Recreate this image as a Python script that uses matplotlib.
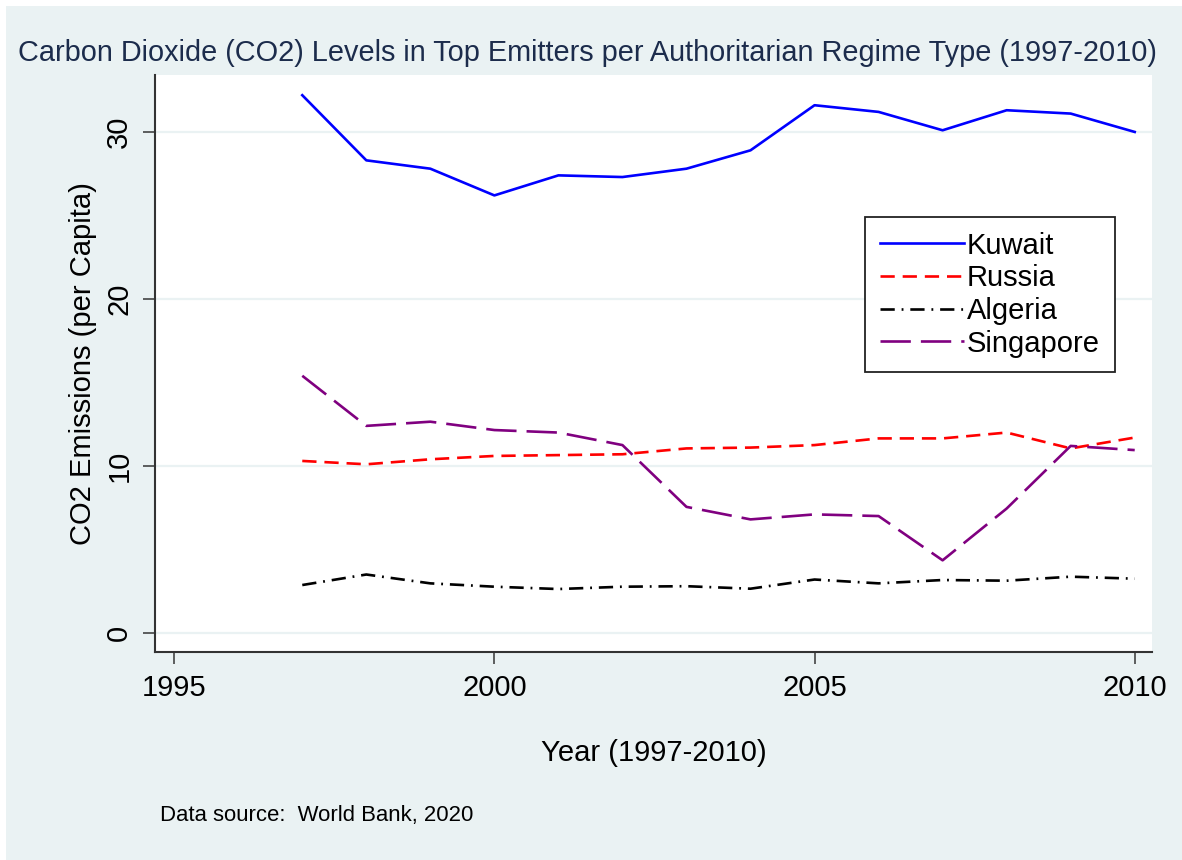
import matplotlib
matplotlib.use("Agg")
import matplotlib.pyplot as plt
from matplotlib.patches import Rectangle

plt.rcParams['font.family'] = ['Liberation Sans', 'DejaVu Sans']

years = [1997, 1998, 1999, 2000, 2001, 2002, 2003, 2004, 2005, 2006, 2007, 2008, 2009, 2010]
kuwait = [32.2, 28.3, 27.8, 26.2, 27.4, 27.3, 27.8, 28.9, 31.6, 31.2, 30.1, 31.3, 31.1, 30.0]
russia = [10.3, 10.1, 10.4, 10.6, 10.65, 10.7, 11.05, 11.1, 11.25, 11.65, 11.65, 12.0, 11.05, 11.7]
algeria = [2.87, 3.5, 2.97, 2.77, 2.63, 2.77, 2.8, 2.65, 3.2, 2.97, 3.17, 3.13, 3.37, 3.25]
singapore = [15.4, 12.4, 12.65, 12.15, 12.0, 11.25, 7.55, 6.8, 7.1, 7.0, 4.35, 7.45, 11.2, 10.95]

x_ticks = [1995, 2000, 2005, 2010]
y_ticks = [0, 10, 20, 30]

W, H = 1182, 860
fig = plt.figure(figsize=(W / 100, H / 100), dpi=100, facecolor='white')

# light graph region background
bg = Rectangle((6 / W, 0), 1 - 6 / W, 1 - 6 / H, transform=fig.transFigure,
               facecolor='#eaf2f3', edgecolor='none', zorder=-10)
fig.patches.append(bg)

ax = fig.add_axes([155 / W, 1 - 652 / H, (1152 - 155) / W, (652 - 75) / H])
ax.set_facecolor('white')

lw = 1.9
ax.plot(years, kuwait, color='#0000ff', lw=lw, label='Kuwait')
l_r, = ax.plot(years, russia, color='#ff0000', lw=lw, label='Russia')
l_r.set_dashes((5.4, 3.0))
l_a, = ax.plot(years, algeria, color='black', lw=lw, label='Algeria')
l_a.set_dashes((5.4, 2.6, 0.7, 2.6))
l_s, = ax.plot(years, singapore, color='#800080', lw=lw, label='Singapore')
l_s.set_dashes((11.5, 3.8))

ax.set_xlim(1994.70, 2010.27)
ax.set_ylim(-1.14, 33.41)
ax.set_xticks(x_ticks)
ax.set_yticks(y_ticks)
ax.set_xticklabels([str(t) for t in x_ticks])
ax.set_yticklabels([str(t) for t in y_ticks], rotation=90, va='center')

for yv in y_ticks:
    ax.axhline(yv, color='#eaf2f3', lw=1.6, zorder=0)

for side in ('top', 'right'):
    ax.spines[side].set_visible(False)
for side in ('left', 'bottom'):
    ax.spines[side].set_color('#333333')
    ax.spines[side].set_linewidth(1.5)

ax.tick_params(axis='both', direction='out', length=8.6, width=1.2,
               color='#444444', labelsize=21, pad=7)

ax.set_xlabel('Year (1997-2010)', fontsize=21, labelpad=27)
ax.set_ylabel('CO2 Emissions (per Capita)', fontsize=21, labelpad=6)

leg = ax.legend(loc='upper left', bbox_to_anchor=((865 - 155) / (1152 - 155), (652 - 217) / (652 - 75)),
                fontsize=21, frameon=True, fancybox=False, handlelength=2.9,
                handletextpad=0.1, labelspacing=0.16, borderpad=0.5, borderaxespad=0)
leg.get_frame().set_edgecolor('#222222')
leg.get_frame().set_linewidth(1.3)
leg.get_frame().set_facecolor('white')
leg.get_frame().set_alpha(1)

fig.text(587 / W, 1 - 53 / H,
         'Carbon Dioxide (CO2) Levels in Top Emitters per Authoritarian Regime Type (1997-2010)',
         ha='center', va='center', fontsize=20.8, color='#1c2c4c')
fig.text(160 / W, 1 - 815 / H, 'Data source:  World Bank, 2020',
         ha='left', va='center', fontsize=15.9, color='black')

fig.savefig('out.png', dpi=100, facecolor=fig.get_facecolor())
